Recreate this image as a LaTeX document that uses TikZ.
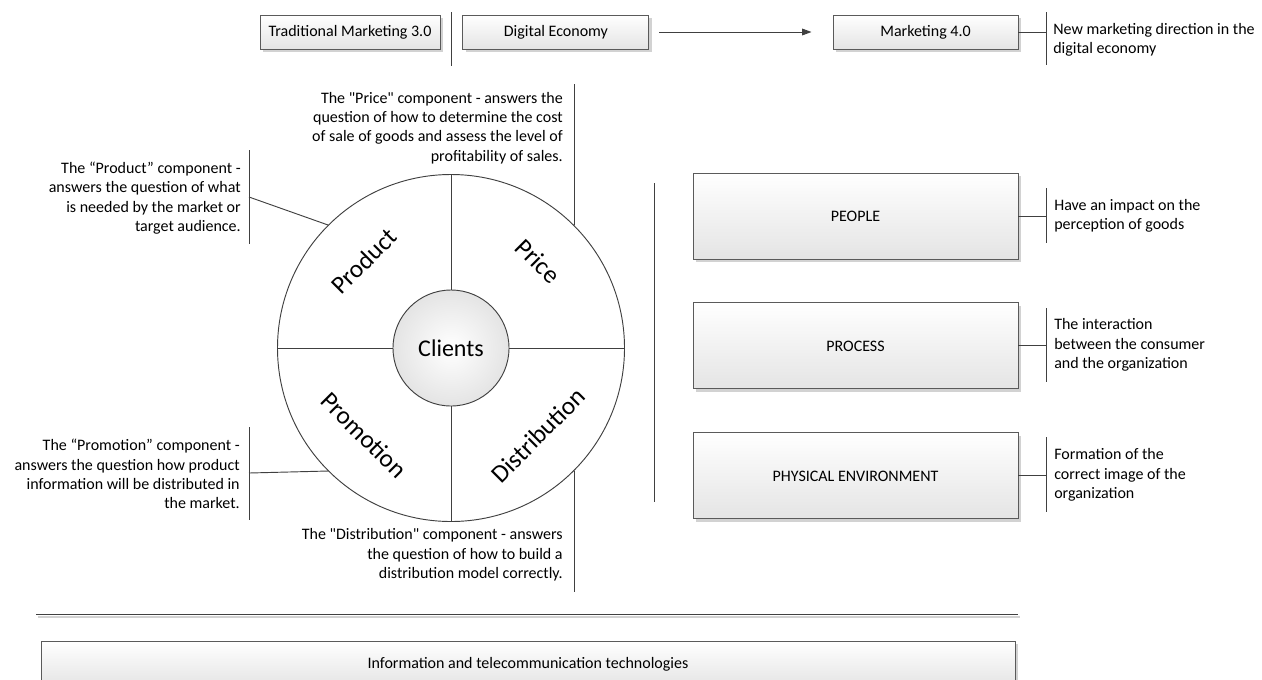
\documentclass[tikz,border=0pt]{standalone}
\usepackage{fontspec}
\setmainfont{Carlito}
\usetikzlibrary{arrows.meta,positioning,shadows}
\definecolor{mkLine}{HTML}{404040}
\definecolor{mkEdge}{HTML}{5A5A5A}
\definecolor{mkShade}{HTML}{E4E4E4}
\definecolor{mkShadow}{HTML}{D2D2D2}
\newcommand{\notefont}{\fontsize{12}{14.5}\selectfont}
\newcommand{\dq}{\textquotedbl}
\tikzset{
  mixbox/.style={rectangle,draw=mkEdge,top color=white,bottom color=mkShade,
    drop shadow={shadow xshift=2pt,shadow yshift=-2pt,fill=mkShadow,opacity=1},
    minimum height=25.5pt,inner sep=0pt,line width=0.7pt,font=\notefont},
  elembox/.style={mixbox,minimum width=243.75pt,minimum height=64.5pt},
  notetext/.style={inner sep=0pt,font=\notefont,text=black},
  seglabel/.style={inner sep=0pt,font=\fontsize{19}{22}\selectfont},
  bar/.style={draw=mkLine,line width=0.7pt},
  arrow/.style={-{Triangle[length=7pt,width=5pt]},draw=mkLine,line width=0.7pt}
}

\begin{document}
\begin{tikzpicture}[x=0.75pt,y=-0.75pt]
  \useasboundingbox (0,0) rectangle (1262,679);
  \clip (0,0) rectangle (1262,679);
  % top row
  \node[mixbox,minimum width=135pt] (trad) at (350,32) {Traditional Marketing 3.0};
  \node[mixbox,minimum width=139.5pt,right=16.5pt of trad] (digital) {Digital Economy};
  \node[mixbox,minimum width=138.75pt] (mkt4) at (925.5,32) {Marketing 4.0};
  \draw[bar] (451,12) -- (451,66);
  \draw[arrow,shorten <=7.5pt,shorten >=15.75pt] (digital) -- (mkt4);
  \draw[bar] (mkt4.east) -- ++(28,0) coordinate (mkt4br);
  \draw[bar] (1046,12) -- (1046,65);
  \node[notetext,anchor=west,align=left] (mkt4note) at (1053,40)
    {New marketing direction in the\\digital economy};
  % the mix circle
  \node[circle,draw=mkLine,fill=white,line width=0.7pt,minimum size=260.25pt,inner sep=0pt] (ring) at (451,348) {};
  \node[circle,draw=mkLine,line width=0.7pt,inner color=white,outer color=mkShade,
    minimum size=87pt,inner sep=0pt,font=\fontsize{18}{21}\selectfont] (clients) at (451,348) {Clients};
  \foreach \a in {north,south,east,west}
    \draw[bar] (ring.\a) -- (clients.\a);
  \node[seglabel,rotate=45] (productlbl) at (364,261) {Product};
  \node[seglabel,rotate=-45] (pricelbl) at (538,261) {Price};
  \node[seglabel,rotate=-45] (promolbl) at (364,435) {Promotion};
  \node[seglabel,rotate=45] (distlbl) at (538,435) {Distribution};
  % callouts
  \node[notetext,anchor=east,align=right] (pricenote) at (563,128)
    {The \dq Price\dq{} component - answers the\\question of how to determine the cost\\of sale of goods and assess the level of\\profitability of sales.};
  \draw[bar] (ring.45) -- ++(0,-141);
  \node[notetext,anchor=east,align=right] (prodnote) at (241,198)
    {The “Product” component -\\answers the question of what\\is needed by the market or\\target audience.};
  \draw[bar] (249,150) -- (249,244);
  \coordinate (prodbar) at (249,197);
  \draw[bar] (ring.135) -- (prodbar);
  \node[notetext,anchor=east,align=right] (promonote) at (240,474)
    {The “Promotion” component -\\answers the question how product\\information will be distributed in\\the market.};
  \draw[bar] (249,427) -- (249,520);
  \coordinate (promobar) at (249,473);
  \draw[bar] (ring.225) -- (promobar);
  \node[notetext,anchor=east,align=right] (distnote) at (563,555)
    {The \dq Distribution\dq{} component - answers\\the question of how to build a\\distribution model correctly.};
  \draw[bar] (ring.-45) -- ++(0,121);
  % extended elements
  \draw[bar] (654,183) -- (654,502);
  \node[elembox] (people) at (855.5,216) {PEOPLE};
  \node[elembox,below=32.25pt of people] (process) {PROCESS};
  \node[elembox,below=32.25pt of process] (physical) {PHYSICAL ENVIRONMENT};
  \foreach \n/\t/\b in {people/188/243,process/308/382,physical/437/512}{
    \draw[bar] (\n.east) -- ++(28,0) coordinate (\n br);
    \draw[bar] (1046,\t) -- (1046,\b);
  }
  \node[notetext,anchor=west,align=left] (peoplenote) at (1054,216)
    {Have an impact on the\\perception of goods};
  \node[notetext,anchor=west,align=left] (processnote) at (1054,345)
    {The interaction\\between the consumer\\and the organization};
  \node[notetext,anchor=west,align=left] (physicalnote) at (1054,475)
    {Formation of the\\correct image of the\\organization};
  % base layer
  \draw[draw=mkShadow,line width=1pt] (38,617) -- (1020,617);
  \draw[bar] (36,614) -- (1018,614);
  \node[mixbox,minimum width=730.5pt,minimum height=34.5pt] (ict) at (528,664)
    {Information and telecommunication technologies};
\end{tikzpicture}
\end{document}
